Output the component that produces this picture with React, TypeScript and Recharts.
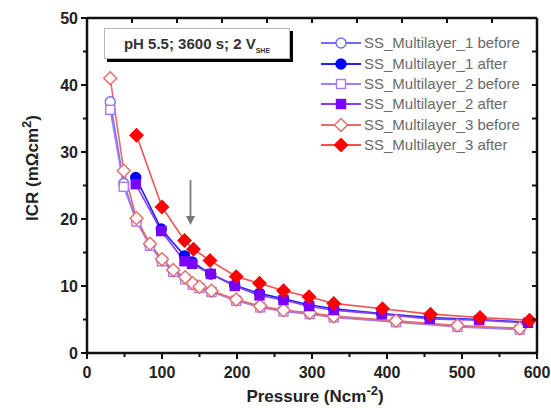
import React from 'react';
import {
  LineChart, Line, XAxis, YAxis, ReferenceLine, ReferenceDot,
} from 'recharts';

// Pressure values (Ncm^-2)
const pressureBefore = [31, 49, 66, 84, 100, 115, 131, 141, 150, 166, 199, 231, 262, 297, 329, 412, 494, 577];
const pressureAfter = [65, 99, 130, 140, 165, 197, 230, 262, 296, 329, 393, 457, 523, 588];
const pressureAfter3 = [66, 100, 130, 142, 164, 199, 230, 262, 296, 329, 394, 458, 524, 590];

// ICR values (mOhm cm^2)
const ss1Before = [37.5, 25.3, 19.8, 16.1, 13.8, 12.2, 11.1, 10.3, 9.8, 9.2, 7.9, 6.9, 6.3, 5.9, 5.4, 4.7, 4.0, 3.6];
const ss2Before = [36.3, 24.8, 19.6, 16.0, 13.7, 12.1, 11.0, 10.2, 9.7, 9.1, 7.8, 6.8, 6.2, 5.8, 5.3, 4.6, 3.9, 3.5];
const ss3Before = [41.0, 27.2, 20.1, 16.3, 14.0, 12.4, 11.3, 10.4, 9.9, 9.3, 8.0, 7.0, 6.4, 6.0, 5.5, 4.8, 4.1, 3.7];
const ss1After = [26.2, 18.5, 14.5, 13.6, 11.8, 10.1, 8.9, 8.1, 7.2, 6.6, 5.9, 5.3, 5.0, 4.6];
const ss2After = [25.2, 18.2, 13.7, 13.3, 11.8, 10.0, 8.6, 7.9, 7.0, 6.4, 5.8, 5.1, 4.9, 4.5];
const ss3After = [32.5, 21.8, 16.8, 15.5, 13.8, 11.4, 10.4, 9.3, 8.4, 7.4, 6.6, 5.8, 5.3, 4.9];

const yTicks = [0, 5, 10, 15, 20, 25, 30, 35, 40, 45, 50];
const xTicks = [0, 50, 100, 150, 200, 250, 300, 350, 400, 450, 500, 550, 600];
const topTicks = [60, 120, 180, 240, 300, 360, 420, 480, 540];
const rightTicks = [5, 10, 15, 20, 25, 30, 35, 40, 45];

const X_MAX = 600;
const Y_MAX = 50;

const CHART_W = 551;
const CHART_H = 408;
const MARGIN = { top: 18, right: 14, bottom: 0, left: 0 };
const Y_AXIS_W = 87;
const X_AXIS_H = 55;
const PLOT_W = CHART_W - MARGIN.left - MARGIN.right - Y_AXIS_W;
const PLOT_H = CHART_H - MARGIN.top - MARGIN.bottom - X_AXIS_H;

const allXTicks = Array.from(new Set([...xTicks, ...topTicks])).sort((a, b) => a - b);

const zip = (xs: number[], ys: number[]) => xs.map((x, i) => ({ x, y: ys[i] }));

type Shape = 'circle' | 'square' | 'diamond';

const series = [
  { name: 'SS_Multilayer_1 before', data: zip(pressureBefore, ss1Before), color: '#6f6ff5', mark: '#6f6ff5', shape: 'circle' as Shape, filled: false },
  { name: 'SS_Multilayer_2 before', data: zip(pressureBefore, ss2Before), color: '#a77cf0', mark: '#a77cf0', shape: 'square' as Shape, filled: false },
  { name: 'SS_Multilayer_3 before', data: zip(pressureBefore, ss3Before), color: '#e86a6a', mark: '#e86a6a', shape: 'diamond' as Shape, filled: false },
  { name: 'SS_Multilayer_1 after', data: zip(pressureAfter, ss1After), color: '#2020ff', mark: '#0000ff', shape: 'circle' as Shape, filled: true },
  { name: 'SS_Multilayer_2 after', data: zip(pressureAfter, ss2After), color: '#8a3cf0', mark: '#7a00ff', shape: 'square' as Shape, filled: true },
  { name: 'SS_Multilayer_3 after', data: zip(pressureAfter3, ss3After), color: '#f45050', mark: '#ff0000', shape: 'diamond' as Shape, filled: true },
];

const legendOrder = [0, 3, 1, 4, 2, 5];

const FONT = '"Liberation Sans", Arial, Helvetica, sans-serif';

function Marker({ cx, cy, shape, color, filled }: { cx: number; cy: number; shape: Shape; color: string; filled: boolean }) {
  const fill = filled ? color : '#ffffff';
  if (shape === 'circle') return <circle cx={cx} cy={cy} r={5} fill={fill} stroke={color} strokeWidth={1.4} />;
  if (shape === 'square') return <rect x={cx - 4.5} y={cy - 4.5} width={9} height={9} fill={fill} stroke={color} strokeWidth={1.4} />;
  const h = 6.5;
  return <polygon points={`${cx},${cy - h} ${cx + h},${cy} ${cx},${cy + h} ${cx - h},${cy}`} fill={fill} stroke={color} strokeWidth={1.4} />;
}

const LeftTick = (props: any) => {
  const { x, y, payload } = props;
  const v = payload.value;
  const major = v % 10 === 0;
  return (
    <g>
      <line x1={x} x2={x - (major ? 6 : 4)} y1={y} y2={y} stroke="#111" strokeWidth={2} />
      {rightTicks.includes(v) && (
        <line x1={x + PLOT_W} x2={x + PLOT_W - 5} y1={y} y2={y} stroke="#111" strokeWidth={2} />
      )}
      {major && (
        <text x={x - 9} y={y} textAnchor="end" dominantBaseline="central" fontFamily={FONT} fontWeight="bold" fontSize={16} fill="#222">
          {v}
        </text>
      )}
    </g>
  );
};

const BottomTick = (props: any) => {
  const { x, y, payload } = props;
  const v = payload.value;
  const onBottom = xTicks.includes(v);
  const major = v % 100 === 0;
  return (
    <g>
      {onBottom && <line x1={x} x2={x} y1={y} y2={y + (major ? 6 : 4)} stroke="#111" strokeWidth={2} />}
      {topTicks.includes(v) && <line x1={x} x2={x} y1={y - PLOT_H} y2={y - PLOT_H + 5} stroke="#111" strokeWidth={2} />}
      {onBottom && major && (
        <text x={x} y={y + 19} textAnchor="middle" dominantBaseline="central" fontFamily={FONT} fontWeight="bold" fontSize={16} fill="#222">
          {v}
        </text>
      )}
    </g>
  );
};

const LegendBox = () => (
  <div style={{ position: 'absolute', left: 321, top: 33, fontFamily: FONT, fontSize: 15, color: '#6a6a6a' }}>
    {legendOrder.map((i) => {
      const s = series[i];
      return (
        <div key={s.name} style={{ display: 'flex', alignItems: 'center', height: 20.4, whiteSpace: 'nowrap' }}>
          <svg width={43} height={14} style={{ display: 'block' }}>
            <line x1={0} x2={40} y1={7} y2={7} stroke={s.color} strokeWidth={2} />
            <Marker cx={20} cy={7} shape={s.shape} color={s.mark} filled={s.filled} />
          </svg>
          <span style={{ lineHeight: '20px' }}>{s.name}</span>
        </div>
      );
    })}
  </div>
);

const ArrowHead = (props: any) => {
  const { cx, cy } = props;
  return <polygon points={`${cx - 4.5},${cy - 9} ${cx + 4.5},${cy - 9} ${cx},${cy}`} fill="#777" />;
};

export default function App() {
  return (
    <div style={{ position: 'absolute', left: 0, top: 0, width: CHART_W, height: CHART_H, background: '#fff' }}>
      <LineChart width={CHART_W} height={CHART_H} margin={MARGIN}>
        <XAxis
          type="number"
          dataKey="x"
          domain={[0, X_MAX]}
          ticks={allXTicks}
          height={X_AXIS_H}
          tickSize={0}
          tickMargin={0}
          tickLine={false}
          tick={<BottomTick />}
          axisLine={{ stroke: '#111', strokeWidth: 2.5 }}
          allowDataOverflow
          interval={0}
        />
        <YAxis
          type="number"
          domain={[0, Y_MAX]}
          ticks={yTicks}
          width={Y_AXIS_W}
          tickSize={0}
          tickMargin={0}
          tickLine={false}
          tick={<LeftTick />}
          axisLine={{ stroke: '#111', strokeWidth: 2.5 }}
          allowDataOverflow
          interval={0}
        />
        <ReferenceLine y={Y_MAX} stroke="#111" strokeWidth={2.5} ifOverflow="visible" />
        <ReferenceLine x={X_MAX} stroke="#111" strokeWidth={2.5} ifOverflow="visible" />
        {series.map((s) => (
          <Line
            key={s.name}
            data={s.data}
            dataKey="y"
            name={s.name}
            type="linear"
            stroke={s.color}
            strokeWidth={1.6}
            isAnimationActive={false}
            dot={(p: any) => <Marker key={`${s.name}-${p.index}`} cx={p.cx} cy={p.cy} shape={s.shape} color={s.mark} filled={s.filled} />}
            activeDot={false}
          />
        ))}
        <ReferenceLine segment={[{ x: 138, y: 25.8 }, { x: 138, y: 20.2 }]} stroke="#777" strokeWidth={1.8} />
        <ReferenceDot x={138} y={19.1} r={0} shape={<ArrowHead />} />
        <text
          transform="translate(38,168) rotate(-90)"
          textAnchor="middle"
          fontFamily={FONT}
          fontWeight="bold"
          fontSize={17}
          fill="#222"
        >
          ICR (mΩcm<tspan dy={-7} fontSize={13}>2</tspan><tspan dy={7}>)</tspan>
        </text>
        <text x={315} y={402} textAnchor="middle" fontFamily={FONT} fontWeight="bold" fontSize={17} fill="#222">
          Pressure (Ncm<tspan dy={-7} fontSize={13}>-2</tspan><tspan dy={7}>)</tspan>
        </text>
      </LineChart>
      <LegendBox />
      <div
        style={{
          position: 'absolute', left: 104, top: 28, width: 186, height: 31,
          border: '1px solid #bbb', boxShadow: '3px 3px 0 #000', background: '#fff',
          boxSizing: 'border-box', textAlign: 'center', lineHeight: '29px',
          fontFamily: FONT, fontWeight: 'bold', fontSize: 15, color: '#333', whiteSpace: 'nowrap',
        }}
      >
        <span>pH 5.5; 3600 s; 2 V<span style={{ fontSize: 7, position: 'relative', top: 4 }}>SHE</span></span>
      </div>
    </div>
  );
}
